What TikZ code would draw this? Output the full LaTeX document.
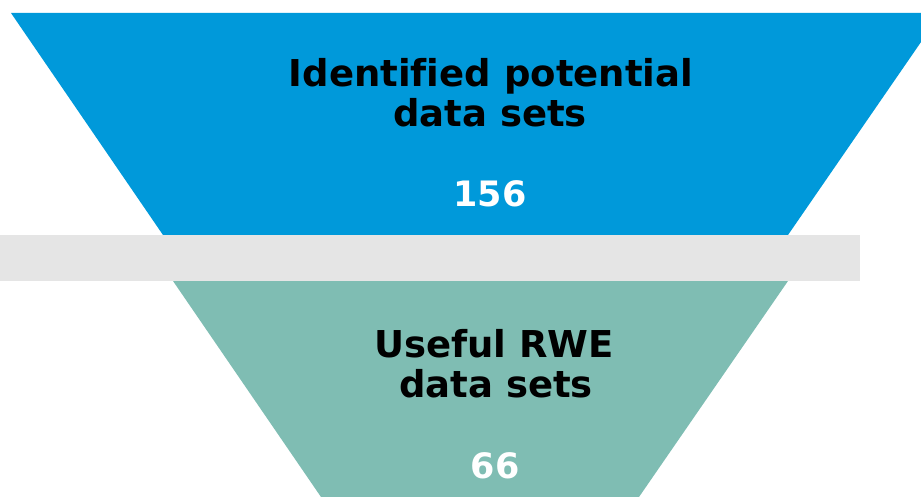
\documentclass[tikz,border=0pt]{standalone}
\usepackage{fontspec}
\setmainfont[Ligatures=NoCommon]{DejaVu Sans}
\definecolor{funnelblue}{HTML}{0099DA}
\definecolor{funnelteal}{HTML}{7FBDB3}
\definecolor{bandgray}{HTML}{E5E5E5}
\tikzset{
  label text/.style={anchor=base, inner sep=0pt, font=\bfseries\fontsize{37}{40}\selectfont, text=black},
  count text/.style={anchor=base, inner sep=0pt, font=\bfseries\fontsize{35}{40}\selectfont, text=white}
}
\begin{document}
\begin{tikzpicture}[x=1pt,y=-1pt]
\useasboundingbox (0,0) rectangle (921,497);
\begin{scope}
\clip (0,0) rectangle (921,497);
\fill[funnelblue] (11,13) -- (941,13) -- (788,235) -- (163,235) -- cycle;
\fill[bandgray] (0,235) rectangle (860,281);
\fill[funnelteal] (173,281) -- (788,281) -- (639,497) -- (321,497) -- cycle;
\end{scope}
\node[label text] (t1) at (491,87) {Identified potential};
\node[label text] (t2) at (490,127) {data sets};
\node[count text] (n1) at (490,207) {156};
\node[label text] (u1) at (494,357) {Useful RWE};
\node[label text] (u2) at (496,397) {data sets};
\node[count text] (n2) at (495,478) {66};
\end{tikzpicture}
\end{document}
